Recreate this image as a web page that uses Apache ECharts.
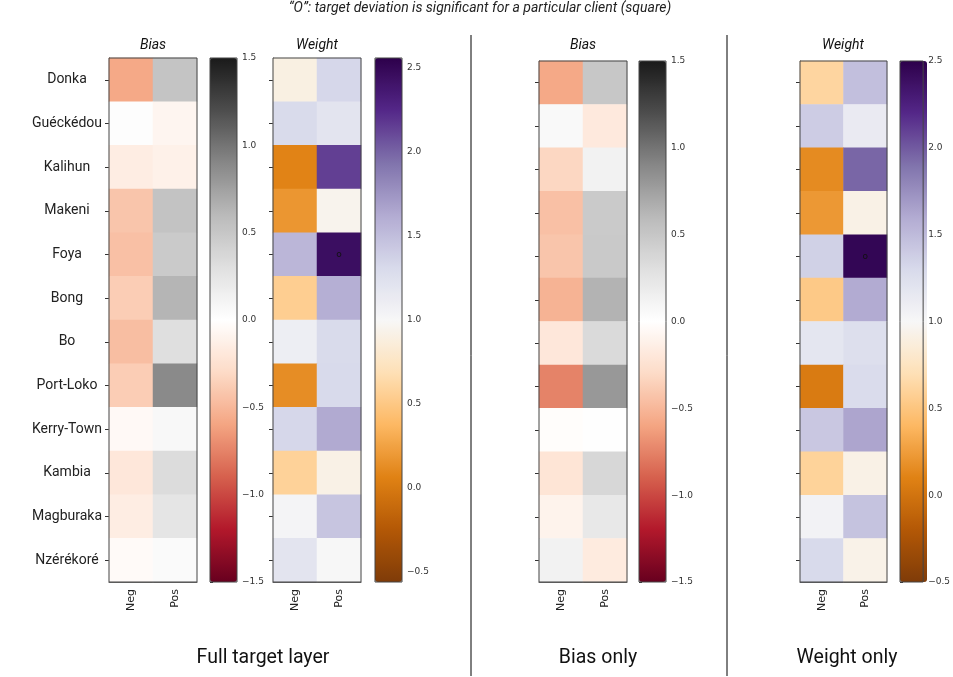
<!DOCTYPE html>
<html>
<head>
<meta charset="utf-8">
<script src="https://cdn.jsdelivr.net/npm/echarts@6/dist/echarts.min.js"></script>
<style>
  html, body { margin: 0; padding: 0; background: #fff; }
  #chart { width: 953px; height: 677px; }
</style>
</head>
<body>
<div id="chart"></div>
<script>
// Clients (rows, top to bottom) and target sign (columns)
const clients = ['Donka', 'Guéckédou', 'Kalihun', 'Makeni', 'Foya', 'Bong', 'Bo',
  'Port-Loko', 'Kerry-Town', 'Kambia', 'Magburaka', 'Nzérékoré'];
const signs = ['Neg', 'Pos'];

// Full target layer: bias deviation
const fullBiasNeg = [-0.58, 0.02, -0.15, -0.42, -0.45, -0.38, -0.46, -0.38, -0.05, -0.20, -0.15, -0.04];
const fullBiasPos = [0.52, -0.08, -0.12, 0.53, 0.47, 0.63, 0.31, 0.88, 0.07, 0.33, 0.25, 0.05];
// Full target layer: weight deviation
const fullWeightNeg = [0.90, 1.30, 0.07, 0.18, 1.55, 0.55, 1.10, 0.13, 1.33, 0.58, 1.03, 1.20];
const fullWeightPos = [1.33, 1.20, 2.15, 0.95, 2.45, 1.60, 1.30, 1.31, 1.63, 0.92, 1.45, 1.00];
// Bias only
const biasOnlyNeg = [-0.58, 0.06, -0.32, -0.45, -0.42, -0.52, -0.20, -0.75, -0.02, -0.22, -0.10, 0.13];
const biasOnlyPos = [0.50, -0.18, 0.13, 0.47, 0.48, 0.64, 0.35, 0.80, 0.01, 0.37, 0.22, -0.17];
// Weight only
const weightOnlyNeg = [0.62, 1.39, 0.15, 0.22, 1.36, 0.53, 1.18, 0.05, 1.42, 0.60, 1.05, 1.30];
const weightOnlyPos = [1.47, 1.13, 1.95, 0.92, 2.45, 1.60, 1.25, 1.28, 1.63, 0.92, 1.45, 0.93];

// Cells where the target deviation is significant: [client, sign]
const sigFullWeight = [['Foya', 'Pos']];
const sigWeightOnly = [['Foya', 'Pos']];

// Colour bar tick labels
const biasTicks = [-1.5, -1.0, -0.5, 0.0, 0.5, 1.0, 1.5];
const weightTicks = [-0.5, 0.0, 0.5, 1.0, 1.5, 2.0, 2.5];

const RdGy = ['#67001f', '#b2182b', '#d6604d', '#f4a582', '#fddbc7', '#ffffff',
  '#e0e0e0', '#bababa', '#878787', '#4d4d4d', '#1a1a1a'];
const PuOr = ['#7f3b08', '#b35806', '#e08214', '#fdb863', '#fee0b6', '#f7f7f7',
  '#d8daeb', '#b2abd2', '#8073ac', '#542788', '#2d004b'];

function cells(neg, pos, sig) {
  const out = [];
  clients.forEach((c, i) => {
    [neg, pos].forEach((arr, j) => {
      const flagged = (sig || []).some(s => s[0] === c && s[1] === signs[j]);
      out.push({ value: [j, i, arr[i]], flagged: flagged });
    });
  });
  return out;
}

const panels = [
  { grid: { left: 109, top: 58, width: 88, height: 524 }, bar: { left: 210, top: 58, width: 27, height: 524 },
    data: cells(fullBiasNeg, fullBiasPos), colors: RdGy, min: -1.5, max: 1.5, ticks: biasTicks, names: true },
  { grid: { left: 273, top: 58, width: 88, height: 524 }, bar: { left: 375, top: 58, width: 27, height: 524 },
    data: cells(fullWeightNeg, fullWeightPos, sigFullWeight), colors: PuOr, min: 1 - 1.56, max: 1 + 1.56, ticks: weightTicks },
  { grid: { left: 539, top: 61, width: 88, height: 521 }, bar: { left: 639, top: 61, width: 27, height: 521 },
    data: cells(biasOnlyNeg, biasOnlyPos), colors: RdGy, min: -1.5, max: 1.5, ticks: biasTicks },
  { grid: { left: 800, top: 61, width: 87, height: 521 }, bar: { left: 900, top: 61, width: 27, height: 521 },
    data: cells(weightOnlyNeg, weightOnlyPos, sigWeightOnly), colors: PuOr, min: -0.5, max: 2.5, ticks: weightTicks }
];

const grid = [], xAxis = [], yAxis = [], series = [], visualMap = [];
const edge = '#444';
const tickFont = 'DejaVu Sans';
const fmt = v => v.toFixed(1).replace('-', '\u2212');

panels.forEach((p, k) => {
  grid.push(Object.assign({ show: true, borderColor: edge, borderWidth: 1, z: 5 }, p.grid));
  xAxis.push({
    type: 'category', data: signs, gridIndex: k, position: 'bottom',
    axisLine: { show: true, lineStyle: { color: edge } },
    axisTick: { alignWithLabel: true, interval: 0, length: 4, lineStyle: { color: '#333' } },
    axisLabel: { rotate: 90, fontSize: 11, fontFamily: tickFont, color: '#222', margin: 7, interval: 0 },
    splitLine: { show: false }
  });
  yAxis.push({
    type: 'category', data: clients, inverse: true, gridIndex: k,
    axisLine: { show: true, lineStyle: { color: edge } },
    axisTick: { show: true, alignWithLabel: true, interval: 0, length: 4, lineStyle: { color: '#333', width: 1 } },
    axisLabel: p.names
      ? { show: true, interval: 0, fontSize: 14, fontFamily: 'Roboto', color: '#222', align: 'center', margin: 42, padding: [3, 0, 0, 0] }
      : { show: false, interval: 0 },
    splitLine: { show: false }
  });
  series.push({
    type: 'heatmap', xAxisIndex: k, yAxisIndex: k,
    data: p.data,
    label: {
      show: true, fontSize: 9, fontFamily: tickFont, color: '#111',
      formatter: prm => (prm.data.flagged ? 'o' : '')
    },
    emphasis: { disabled: true },
    itemStyle: { borderWidth: 0 }
  });
  visualMap.push({
    type: 'continuous', seriesIndex: k, dimension: 2,
    min: p.min, max: p.max, calculable: false, hoverLink: false,
    orient: 'vertical', left: p.bar.left, top: p.bar.top,
    itemWidth: p.bar.width, itemHeight: p.bar.height,
    padding: 0, text: null, showLabel: false,
    inRange: { color: p.colors }
  });
});

// Colour bar scales
panels.forEach((p, k) => {
  const gi = grid.length;
  grid.push(Object.assign({ show: true, borderColor: edge, borderWidth: 1, backgroundColor: 'transparent', z: 6 }, p.bar));
  xAxis.push({ type: 'value', gridIndex: gi, show: false, min: 0, max: 1 });
  yAxis.push({
    type: 'value', gridIndex: gi, position: 'right', min: p.min, max: p.max,
    axisLine: { show: false },
    splitLine: { show: false },
    axisTick: { show: true, length: 3, customValues: p.ticks, lineStyle: { color: '#333' } },
    axisLabel: { show: true, customValues: p.ticks, formatter: fmt, fontSize: 9, fontFamily: tickFont, color: '#333', margin: 5 }
  });
});

const graphic = [
  { type: 'text', x: 480, y: 1, style: { text: '\u201cO\u201d: target deviation is significant for a particular client (square)',
    font: 'italic 14px Roboto', fill: '#222', textAlign: 'center' } },
  { type: 'text', x: 153, y: 38, style: { text: 'Bias', font: 'italic 14px Roboto', fill: '#111', textAlign: 'center' } },
  { type: 'text', x: 317, y: 38, style: { text: 'Weight', font: 'italic 14px Roboto', fill: '#111', textAlign: 'center' } },
  { type: 'text', x: 583, y: 38, style: { text: 'Bias', font: 'italic 14px Roboto', fill: '#111', textAlign: 'center' } },
  { type: 'text', x: 843, y: 38, style: { text: 'Weight', font: 'italic 14px Roboto', fill: '#111', textAlign: 'center' } },
  { type: 'text', x: 263, y: 648, style: { text: 'Full target layer', font: '19.5px Roboto', fill: '#111', textAlign: 'center' } },
  { type: 'text', x: 598, y: 648, style: { text: 'Bias only', font: '19.5px Roboto', fill: '#111', textAlign: 'center' } },
  { type: 'text', x: 847, y: 648, style: { text: 'Weight only', font: '19.5px Roboto', fill: '#111', textAlign: 'center' } },
  { type: 'line', shape: { x1: 471, y1: 35, x2: 471, y2: 676 }, style: { stroke: '#000', lineWidth: 1 } },
  { type: 'line', shape: { x1: 727, y1: 35, x2: 727, y2: 676 }, style: { stroke: '#000', lineWidth: 1 } }
];

const chart = echarts.init(document.getElementById('chart'), null, { renderer: 'canvas' });
chart.setOption({
  backgroundColor: '#fff',
  animation: false,
  grid, xAxis, yAxis, series, visualMap, graphic
});
</script>
</body>
</html>
